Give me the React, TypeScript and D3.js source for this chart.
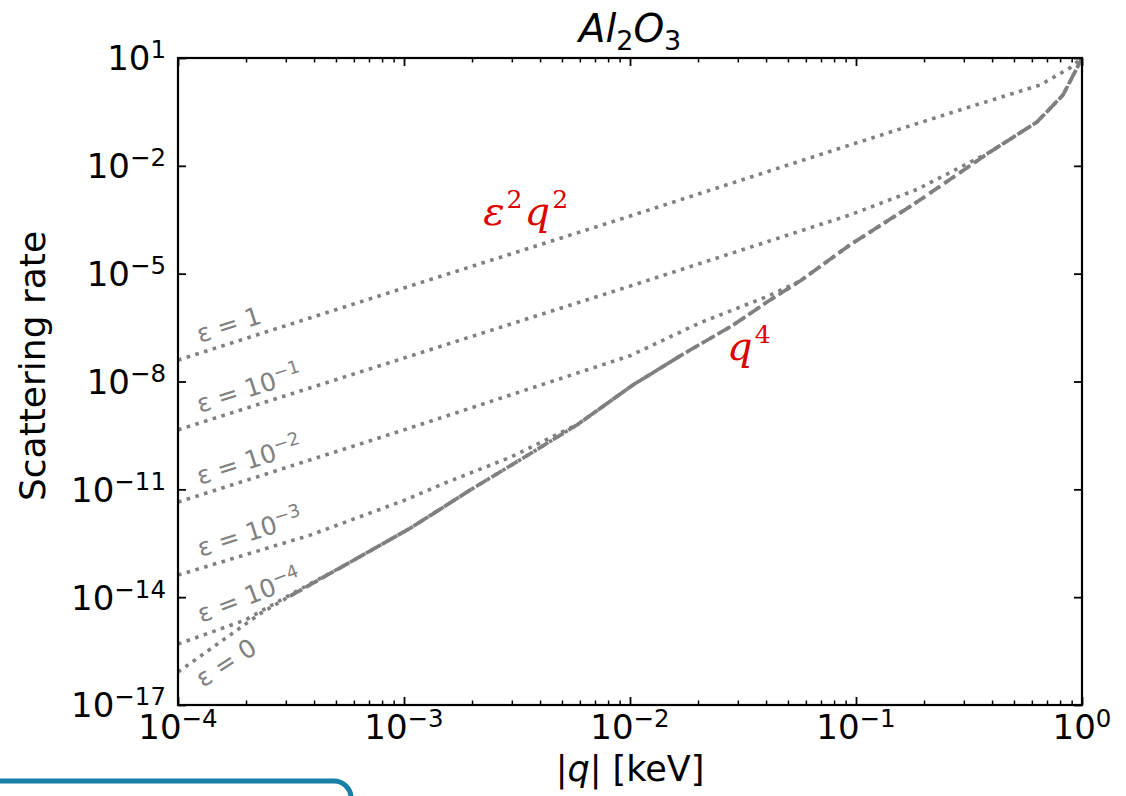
import React, { useRef, useEffect } from 'react';
import * as d3 from 'd3';

// axis ranges and ticks (exponents of 10)
const xDomain = [1e-4, 1];
const yDomain = [1e-17, 10];
const xTickExps = [-4, -3, -2, -1, 0];
const yTickExps = [1, -2, -5, -8, -11, -14, -17];

// computed scattering rate (dashed)
const rateQ = [3.13e-4, 5.48e-4, 1.07e-3, 1.96e-3, 3.54e-3, 5.89e-3, 1.03e-2, 1.72e-2, 2.86e-2, 4.04e-2, 5.65e-2, 9.4e-2, 0.186, 0.392, 0.632, 0.824, 0.931, 1.0];
const rateVal = [1.07e-14, 7.8e-14, 8.4e-13, 9.5e-12, 9.0e-11, 6.5e-10, 8.0e-9, 5.8e-8, 3.7e-7, 1.63e-6, 6.2e-6, 6.3e-5, 9.8e-4, 2.43e-2, 0.166, 0.935, 4.1, 10];

// dotted curves: own points, then they run into the computed rate at joinAt
const eps1Q = [1e-4, 1e-3, 1e-2, 0.1, 0.288, 0.652, 0.885, 1.0];
const eps1Val = [3.95e-8, 4.0e-6, 4.0e-4, 4.3e-2, 0.357, 1.77, 5.3, 10];
const epsM1Q = [1e-4, 1e-3, 1e-2, 9.4e-2, 0.186];
const epsM1Val = [4.5e-10, 4.5e-8, 4.5e-6, 4.3e-4, 2.2e-3];
const epsM2Q = [1e-4, 1e-3, 1e-2, 2.04e-2, 4.04e-2];
const epsM2Val = [4.4e-12, 4.5e-10, 5.2e-8, 4.3e-7, 2.3e-6];
const epsM3Q = [1e-4, 3.87e-4, 1e-3, 1.52e-3, 2.97e-3];
const epsM3Val = [4.1e-14, 5.4e-13, 4.9e-12, 1.5e-11, 7.9e-11];
const epsM4Q = [1e-4, 1.98e-4, 3.47e-4];
const epsM4Val = [4.95e-16, 2.3e-15, 1.66e-14];
const eps0Q = [1e-4, 2.33e-4];
const eps0Val = [8.3e-17, 3.6e-15];

// where merged, the dotted curves sit on the dashed one; only eps=0 is drawn all the way
const dottedSeries = [
  { q: eps1Q, v: eps1Val, joinAt: -1, follow: 0 },
  { q: epsM1Q, v: epsM1Val, joinAt: 13, follow: 99 },
  { q: epsM2Q, v: epsM2Val, joinAt: 10, follow: 2 },
  { q: epsM3Q, v: epsM3Val, joinAt: 5, follow: 2 },
  { q: epsM4Q, v: epsM4Val, joinAt: 1, follow: 2 },
  { q: eps0Q, v: eps0Val, joinAt: 0, follow: 99 },
];

// curve labels: [q, rate] anchor, base text, exponent, rotation
const epsLabels = [
  { q: 1.25e-4, v: 1.17e-7, base: 'ε = 1', exp: '', rot: -17.7 },
  { q: 1.25e-4, v: 1.32e-9, base: 'ε = 10', exp: '−1', rot: -17.7 },
  { q: 1.25e-4, v: 1.32e-11, base: 'ε = 10', exp: '−2', rot: -17.7 },
  { q: 1.26e-4, v: 1.31e-13, base: 'ε = 10', exp: '−3', rot: -17.7 },
  { q: 1.27e-4, v: 1.9e-15, base: 'ε = 10', exp: '−4', rot: -21 },
  { q: 1.29e-4, v: 2.95e-17, base: 'ε = 0', exp: '', rot: -33 },
];

const W = 1126;
const H = 796;
const plot = { left: 178, right: 1082, top: 58, bottom: 705 };
const grey = '#808080';
const red = '#dd0000';

const App = () => {
  const ref = useRef(null);

  useEffect(() => {
    const svg = d3.select(ref.current);
    svg.selectAll('*').remove();

    const x = d3.scaleLog().domain(xDomain).range([plot.left, plot.right]);
    const y = d3.scaleLog().domain(yDomain).range([plot.bottom, plot.top]);

    svg.append('defs').append('clipPath').attr('id', 'plotclip')
      .append('rect')
      .attr('x', plot.left).attr('y', plot.top)
      .attr('width', plot.right - plot.left).attr('height', plot.bottom - plot.top);

    // curves
    const line = d3.line<[number, number]>().x(d => x(d[0])).y(d => y(d[1]));
    const g = svg.append('g').attr('clip-path', 'url(#plotclip)');

    const ratePts = rateQ.map((q, i) => [q, rateVal[i]] as [number, number]);

    g.append('path')
      .attr('d', line(ratePts))
      .attr('fill', 'none')
      .attr('stroke', grey)
      .attr('stroke-width', 3.6)
      .attr('stroke-dasharray', '12.5 5.5');

    dottedSeries.forEach(s => {
      let pts = s.q.map((q, i) => [q, s.v[i]] as [number, number]);
      if (s.joinAt >= 0) pts = pts.concat(ratePts.slice(s.joinAt, s.joinAt + 1 + s.follow));
      g.append('path')
        .attr('d', line(pts))
        .attr('fill', 'none')
        .attr('stroke', grey)
        .attr('stroke-width', 3.6)
        .attr('stroke-dasharray', '3.6 5.5');
    });

    // frame
    svg.append('rect')
      .attr('x', plot.left).attr('y', plot.top)
      .attr('width', plot.right - plot.left).attr('height', plot.bottom - plot.top)
      .attr('fill', 'none').attr('stroke', '#000').attr('stroke-width', 2.2);

    // ticks (inward, all four sides)
    const xMajor = xTickExps.map(e => Math.pow(10, e));
    const xMinor: number[] = [];
    xTickExps.slice(0, -1).forEach(e => {
      for (let m = 2; m <= 9; m++) xMinor.push(m * Math.pow(10, e));
    });
    const yMajor = yTickExps.map(e => Math.pow(10, e));

    const styleAxis = (sel, w) => {
      sel.select('.domain').remove();
      sel.selectAll('text').remove();
      sel.selectAll('line').attr('stroke', '#000').attr('stroke-width', w);
    };

    const addAxis = (axis, tr, w) => {
      const a = svg.append('g').attr('transform', tr).call(axis);
      styleAxis(a, w);
    };

    addAxis(d3.axisBottom(x).tickValues(xMajor).tickSizeInner(-8).tickSizeOuter(0), `translate(0,${plot.bottom})`, 1.8);
    addAxis(d3.axisBottom(x).tickValues(xMinor).tickSizeInner(-4.5).tickSizeOuter(0), `translate(0,${plot.bottom})`, 1.5);
    addAxis(d3.axisTop(x).tickValues(xMajor).tickSizeInner(-8).tickSizeOuter(0), `translate(0,${plot.top})`, 1.8);
    addAxis(d3.axisTop(x).tickValues(xMinor).tickSizeInner(-4.5).tickSizeOuter(0), `translate(0,${plot.top})`, 1.5);
    addAxis(d3.axisLeft(y).tickValues(yMajor).tickSizeInner(-8).tickSizeOuter(0), `translate(${plot.left},0)`, 1.8);
    addAxis(d3.axisRight(y).tickValues(yMajor).tickSizeInner(-8).tickSizeOuter(0), `translate(${plot.right},0)`, 1.8);

    // tick labels
    const tickFont = 34;
    const powLabel = (sel, exp) => {
      sel.append('tspan').text('10');
      sel.append('tspan')
        .attr('font-size', tickFont * 0.72)
        .attr('dy', -12)
        .text(exp < 0 ? `−${-exp}` : `${exp}`);
    };

    xTickExps.forEach(e => {
      const t = svg.append('text')
        .attr('x', x(Math.pow(10, e)))
        .attr('y', 739)
        .attr('text-anchor', 'middle')
        .attr('font-family', 'DejaVu Sans')
        .attr('font-size', tickFont)
        .attr('fill', '#000');
      powLabel(t, e);
    });

    yTickExps.forEach(e => {
      const t = svg.append('text')
        .attr('x', 166)
        .attr('y', y(Math.pow(10, e)) + 12.4)
        .attr('text-anchor', 'end')
        .attr('font-family', 'DejaVu Sans')
        .attr('font-size', tickFont)
        .attr('fill', '#000');
      powLabel(t, e);
    });

    // curve labels
    epsLabels.forEach(l => {
      const t = svg.append('text')
        .attr('transform', `translate(${x(l.q)},${y(l.v)}) rotate(${l.rot})`)
        .attr('font-family', 'DejaVu Sans')
        .attr('font-size', 25)
        .attr('fill', grey);
      t.append('tspan').text(l.base);
      if (l.exp) {
        t.append('tspan').attr('font-size', 18).attr('dy', -9).text(l.exp);
      }
    });

    // red annotations
    const redText = (q, v, parts) => {
      const t = svg.append('text')
        .attr('x', x(q)).attr('y', y(v))
        .attr('font-family', 'DejaVu Serif')
        .attr('font-style', 'italic')
        .attr('font-size', 40)
        .attr('fill', red);
      parts.forEach(p => {
        if (p.sup) {
          t.append('tspan').attr('font-size', 25).attr('font-style', 'normal').attr('dy', -17).attr('dx', 2).text(p.s);
        } else {
          t.append('tspan').attr('dy', p.back ? 17 : 0).attr('dx', p.back ? 2 : 0).text(p.s);
        }
      });
    };
    redText(2.24e-3, 2.25e-4, [{ s: 'ε' }, { s: '2', sup: true }, { s: 'q', back: true }, { s: '2', sup: true }]);
    redText(2.69e-2, 3.95e-8, [{ s: 'q' }, { s: '4', sup: true }]);

    // title
    const title = svg.append('text')
      .attr('x', (plot.left + plot.right) / 2)
      .attr('y', 42)
      .attr('text-anchor', 'middle')
      .attr('font-family', 'DejaVu Sans')
      .attr('font-size', 39)
      .attr('fill', '#000');
    title.append('tspan').attr('font-style', 'italic').text('Al');
    title.append('tspan').attr('font-size', 27).attr('dy', 8).text('2');
    title.append('tspan').attr('font-style', 'italic').attr('dy', -8).text('O');
    title.append('tspan').attr('font-size', 27).attr('dy', 8).text('3');

    // axis labels
    const xl = svg.append('text')
      .attr('x', (plot.left + plot.right) / 2)
      .attr('y', 781)
      .attr('text-anchor', 'middle')
      .attr('font-family', 'DejaVu Sans')
      .attr('font-size', 35)
      .attr('fill', '#000');
    xl.append('tspan').text('|');
    xl.append('tspan').attr('font-style', 'italic').text('q');
    xl.append('tspan').text('| [keV]');

    svg.append('text')
      .attr('transform', 'translate(45,366) rotate(-90)')
      .attr('text-anchor', 'middle')
      .attr('font-family', 'DejaVu Sans')
      .attr('font-size', 36)
      .attr('fill', '#000')
      .text('Scattering rate');

    // slide frame peeking in at bottom left
    svg.append('path')
      .attr('d', 'M -10 781 H 334 A 17 17 0 0 1 351 798 V 820')
      .attr('fill', 'none')
      .attr('stroke', '#1a7fa8')
      .attr('stroke-width', 5);
  }, []);

  return (
    <div style={{ position: 'absolute', left: 0, top: 0 }}>
      <svg ref={ref} width={W} height={H} style={{ display: 'block', background: '#fff' }}></svg>
    </div>
  );
};

export default App;
